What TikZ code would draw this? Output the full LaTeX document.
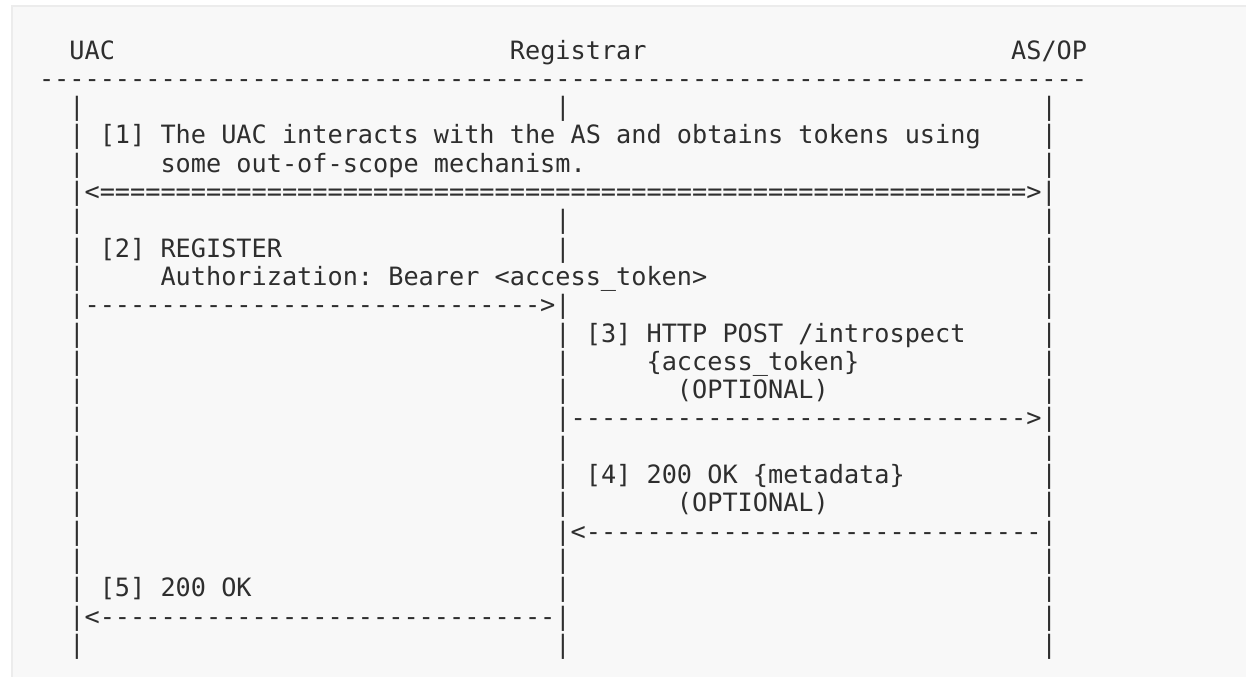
\documentclass[tikz,border=0pt]{standalone}
\usepackage{fontspec}
\setmonofont{DejaVu Sans Mono}
\definecolor{ink}{HTML}{2E2E2E}
\definecolor{bgfill}{HTML}{F8F8F8}
\definecolor{bgedge}{HTML}{ECECEC}
\ExplSyntaxOn
\cs_new:Npn \myrep #1#2 { \prg_replicate:nn {#1} {#2} }
\ExplSyntaxOff
\newcommand\cw{15.19}
\newcommand\rh{28.3}
\newcommand\ox{39}
\newcommand\oy{59}
\newcommand\tx[4]{\node[t] (#1) at ({\ox+(#2)*\cw},{\oy+(#3)*\rh}) {#4};}
\frenchspacing
\begin{document}
\begin{tikzpicture}[x=1pt,y=-1pt,
  t/.style={anchor=base west, inner sep=0pt, outer sep=0pt, text=ink,
    font=\ttfamily\fontsize{25.23pt}{28pt}\selectfont}]
\useasboundingbox (0,0) rectangle (1246,678);
\fill[white] (0,0) rectangle (1246,678);
\fill[bgedge] (11,5) rectangle (1246,677);
\fill[bgfill] (13,7) rectangle (1246,677);
% row 0
\tx{uac}{2}{0}{UAC}
\tx{reg}{31}{0}{Registrar}
\tx{asop}{64}{0}{AS/OP}
% row 1
\tx{hrule}{0}{1}{\myrep{69}{-\kern0pt}}
% row 2
\tx{p2a}{2}{2}{|} \tx{p2b}{34}{2}{|} \tx{p2c}{66}{2}{|}
% row 3
\tx{p3a}{2}{3}{|} \tx{m1a}{4}{3}{[1] The UAC interacts with the AS and obtains tokens using} \tx{p3c}{66}{3}{|}
% row 4
\tx{p4a}{2}{4}{|} \tx{m1b}{8}{4}{some out-of-scope mechanism.} \tx{p4c}{66}{4}{|}
% row 5
\tx{a1}{2}{5}{|<\myrep{61}{=\kern0pt}>|}
% row 6
\tx{p6a}{2}{6}{|} \tx{p6b}{34}{6}{|} \tx{p6c}{66}{6}{|}
% row 7
\tx{p7a}{2}{7}{|} \tx{m2a}{4}{7}{[2] REGISTER} \tx{p7b}{34}{7}{|} \tx{p7c}{66}{7}{|}
% row 8
\tx{p8a}{2}{8}{|} \tx{m2b}{8}{8}{Authorization: Bearer <access\_token>} \tx{p8c}{66}{8}{|}
% row 9
\tx{a2}{2}{9}{|\myrep{30}{-\kern0pt}>|} \tx{p9c}{66}{9}{|}
% row 10
\tx{p10a}{2}{10}{|} \tx{m3a}{34}{10}{| [3] HTTP POST /introspect} \tx{p10c}{66}{10}{|}
% row 11
\tx{p11a}{2}{11}{|} \tx{p11b}{34}{11}{|} \tx{m3b}{40}{11}{\{access\_token\}} \tx{p11c}{66}{11}{|}
% row 12
\tx{p12a}{2}{12}{|} \tx{p12b}{34}{12}{|} \tx{m3c}{42}{12}{(OPTIONAL)} \tx{p12c}{66}{12}{|}
% row 13
\tx{p13a}{2}{13}{|} \tx{a3}{34}{13}{|\myrep{30}{-\kern0pt}>|}
% row 14
\tx{p14a}{2}{14}{|} \tx{p14b}{34}{14}{|} \tx{p14c}{66}{14}{|}
% row 15
\tx{p15a}{2}{15}{|} \tx{m4a}{34}{15}{| [4] 200 OK \{metadata\}} \tx{p15c}{66}{15}{|}
% row 16
\tx{p16a}{2}{16}{|} \tx{p16b}{34}{16}{|} \tx{m4b}{42}{16}{(OPTIONAL)} \tx{p16c}{66}{16}{|}
% row 17
\tx{p17a}{2}{17}{|} \tx{a4}{34}{17}{|<\myrep{30}{-\kern0pt}|}
% row 18
\tx{p18a}{2}{18}{|} \tx{p18b}{34}{18}{|} \tx{p18c}{66}{18}{|}
% row 19
\tx{m5}{2}{19}{| [5] 200 OK} \tx{p19b}{34}{19}{|} \tx{p19c}{66}{19}{|}
% row 20
\tx{a5}{2}{20}{|<\myrep{30}{-\kern0pt}|} \tx{p20c}{66}{20}{|}
% row 21
\tx{p21a}{2}{21}{|} \tx{p21b}{34}{21}{|} \tx{p21c}{66}{21}{|}
\end{tikzpicture}
\end{document}
